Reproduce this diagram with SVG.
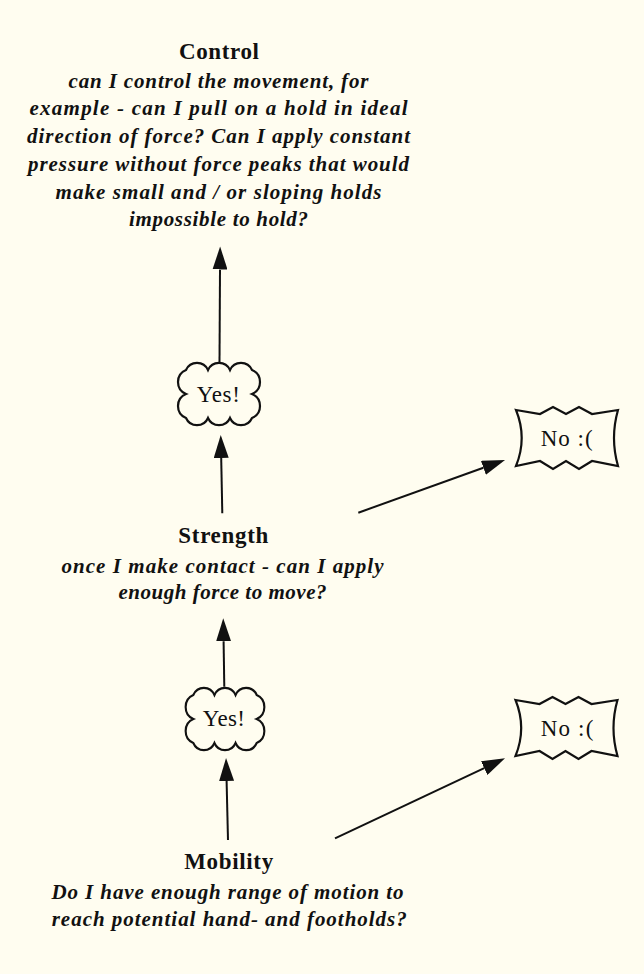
<svg xmlns="http://www.w3.org/2000/svg" xmlns:xlink="http://www.w3.org/1999/xlink" width="644" height="974" viewBox="0 0 644 974">
<style>
.title{font-family:"Liberation Serif","Times New Roman",serif;font-weight:bold;font-size:23px;fill:#111;text-anchor:middle}
.desc{font-family:"Liberation Serif","Times New Roman",serif;font-weight:bold;font-style:italic;font-size:21px;fill:#111;text-anchor:middle}
.lbl{font-family:"Liberation Serif","Times New Roman",serif;font-size:23px;fill:#111;text-anchor:middle}
.shape{fill:#fffdf0;stroke:#111;stroke-width:2.2;stroke-linejoin:miter}
.edge{fill:none;stroke:#111;stroke-width:2}
</style>
<defs>
<marker id="arrow" markerUnits="userSpaceOnUse" viewBox="0 0 23 15" refX="0" refY="7.5" markerWidth="23" markerHeight="15" orient="auto">
<path d="M0,0 L23,7.5 L0,15 Z" fill="#111"/>
</marker>
<path id="cloud" d="M-33,-24 A12,12 0 0 1 -11,-24 A12,12 0 0 1 11,-24 A12,12 0 0 1 33,-24 A13,13 0 0 1 33,0 A13,13 0 0 1 33,24 A12,12 0 0 1 11,24 A12,12 0 0 1 -11,24 A12,12 0 0 1 -33,24 A13,13 0 0 1 -33,0 A13,13 0 0 1 -33,-24 Z"/>
<path id="wave" d="M-51,-28 L-27,-24 L-14,-31 L-1,-24 L12,-31 L25,-24 L51,-28 Q43,0 51,28 L25,23 L12,31 L-1,23 L-14,31 L-27,23 L-51,28 Q-39.6,0 -51,-28 Z"/>
</defs>
<rect x="0" y="0" width="644" height="974" fill="#fffdf0"/>

<g id="connectors">
<path class="edge" d="M219.5,362 L220,269.5" marker-end="url(#arrow)"/>
<path class="edge" d="M222.3,513.3 L221.2,458" marker-end="url(#arrow)"/>
<path class="edge" d="M358.3,512.7 L483.4,467.8" marker-end="url(#arrow)"/>
<path class="edge" d="M224.3,686.7 L223.6,641.3" marker-end="url(#arrow)"/>
<path class="edge" d="M228,840 L226.6,781" marker-end="url(#arrow)"/>
<path class="edge" d="M335,838.3 L484.2,768.1" marker-end="url(#arrow)"/>
</g>

<g id="control">
<text class="title" x="219" y="59.3" textLength="80">Control</text>
<text class="desc" x="218.5" y="87.5" textLength="300">can I control the movement, for</text>
<text class="desc" x="218.5" y="115" textLength="378">example - can I pull on a hold in ideal</text>
<text class="desc" x="218.5" y="143" textLength="383">direction of force? Can I apply constant</text>
<text class="desc" x="218.5" y="171" textLength="381">pressure without force peaks that would</text>
<text class="desc" x="218.5" y="198.5" textLength="326">make small and / or sloping holds</text>
<text class="desc" x="218.5" y="226" textLength="179">impossible to hold?</text>
</g>

<g id="yes1">
<use xlink:href="#cloud" class="shape" transform="translate(219,394)"/>
<text class="lbl" x="218.3" y="401.7" textLength="43">Yes!</text>
</g>

<g id="no1">
<use xlink:href="#wave" class="shape" transform="translate(567,438)"/>
<text class="lbl" x="566.7" y="445.7" textLength="52">No :(</text>
</g>

<g id="strength">
<text class="title" x="223.3" y="543.3" textLength="90">Strength</text>
<text class="desc" x="222.5" y="572.7" textLength="322">once I make contact - can I apply</text>
<text class="desc" x="222.5" y="599.3" textLength="208">enough force to move?</text>
</g>

<g id="yes2">
<use xlink:href="#cloud" class="shape" transform="translate(225,719) scale(0.96,1)"/>
<text class="lbl" x="223.8" y="726" textLength="42">Yes!</text>
</g>

<g id="no2">
<use xlink:href="#wave" class="shape" transform="translate(566.5,728)"/>
<text class="lbl" x="567" y="736" textLength="52.7">No :(</text>
</g>

<g id="mobility">
<text class="title" x="228.7" y="869.3" textLength="89">Mobility</text>
<text class="desc" x="227.5" y="899.3" textLength="352">Do I have enough range of motion to</text>
<text class="desc" x="229.2" y="926" textLength="355">reach potential hand- and footholds?</text>
</g>
</svg>
